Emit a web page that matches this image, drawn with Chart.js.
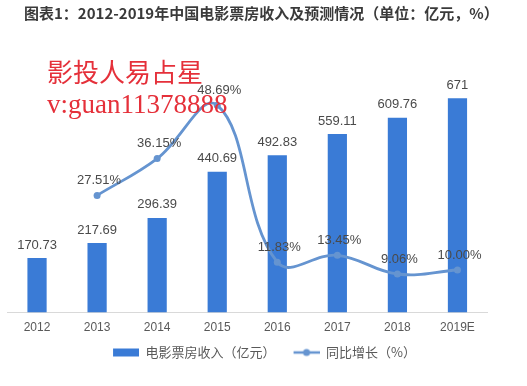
<!DOCTYPE html>
<html><head><meta charset="utf-8">
<script src="https://cdn.jsdelivr.net/npm/chart.js@4/dist/chart.umd.min.js"></script>
<style>
html,body{margin:0;padding:0;background:#fff;}
#wrap{position:relative;width:527px;height:386px;}
#title{position:absolute;left:24px;top:2px;font:bold 15px "Noto Sans CJK SC",sans-serif;color:#3a3a3a;white-space:nowrap;}
.wm{position:absolute;color:#e5303a;white-space:nowrap;line-height:normal;}
#wm1{left:47px;top:52px;font:26px "Noto Sans CJK SC",serif;}
#wm2{left:47px;top:89px;font:27px "Liberation Serif",serif;}
canvas{position:absolute;left:0;top:0;}
</style></head>
<body><div id="wrap">
<canvas id="c" width="527" height="386"></canvas>
<div id="title">图表1：2012-2019年中国电影票房收入及预测情况（单位：亿元，%）</div>
<div class="wm" id="wm1">影投人易占星</div>
<div class="wm" id="wm2">v:guan11378888</div>
</div>
<script>
const categories = ['2012','2013','2014','2015','2016','2017','2018','2019E'];
const boxOffice = [170.73, 217.69, 296.39, 440.69, 492.83, 559.11, 609.76, 671];
const boxOfficeLabels = ['170.73','217.69','296.39','440.69','492.83','559.11','609.76','671'];
const growth = [null, 27.51, 36.15, 48.69, 11.83, 13.45, 9.06, 10.00];
const growthLabels = ['', '27.51%', '36.15%', '48.69%', '11.83%', '13.45%', '9.06%', '10.00%'];
const seriesNames = ['电影票房收入（亿元）', '同比增长（%）'];

const BAR = '#3a7bd6', LINE = '#6594d0';

function legendImg(kind){
  const c = document.createElement('canvas'); c.width = 41; c.height = 10;
  const g = c.getContext('2d');
  if(kind==='bar'){ g.fillStyle = BAR; g.fillRect(15,1,26,8); }
  else { g.strokeStyle = LINE; g.lineWidth = 2.5; g.beginPath(); g.moveTo(15,5); g.lineTo(41,5); g.stroke();
    g.fillStyle = LINE; g.beginPath(); g.arc(28,5,3.5,0,Math.PI*2); g.fill(); }
  return c;
}
const imgs = [legendImg('bar'), legendImg('line')];

const labelPlugin = {
  id:'vlabels',
  afterDatasetsDraw(chart){
    const ctx = chart.ctx;
    ctx.save();
    ctx.font = '13px "Liberation Sans", Arial, sans-serif';
    ctx.fillStyle = '#4a4a4a';
    ctx.textAlign = 'center'; ctx.textBaseline = 'middle';
    chart.getDatasetMeta(0).data.forEach((el,i)=>{ ctx.fillText(boxOfficeLabels[i], el.x, el.y - 13); });
    chart.getDatasetMeta(1).data.forEach((el,i)=>{ if(growth[i]!=null) ctx.fillText(growthLabels[i], el.x + 2, el.y - 15); });
    ctx.restore();
  }
};

new Chart(document.getElementById('c'), {
  data: {
    labels: categories,
    datasets: [
      { type:'bar', label: seriesNames[0], data: boxOffice, backgroundColor: BAR, yAxisID:'y',
        barPercentage: 0.32, categoryPercentage: 1, order: 1 },
      { type:'line', label: seriesNames[1], data: growth, borderColor: LINE, backgroundColor: LINE,
        borderWidth: 2.8, pointRadius: 3.5, pointBackgroundColor: LINE, pointBorderWidth: 0,
        tension: 0.4, yAxisID:'y1', order: 0, spanGaps: false }
    ]
  },
  options: {
    responsive:false, animation:false,
    layout:{ padding:{ top:57, left:7, right:20, bottom:17 } },
    scales:{
      x:{ grid:{display:false, drawTicks:false}, border:{display:true, color:'#d9d9d9', width:1},
          ticks:{ padding:8, color:'#595959', font:{family:'"Liberation Sans", Arial, sans-serif', size:12} } },
      y:{ display:false, min:0, max:800 },
      y1:{ display:true, min:0, max:60, position:'right', grid:{display:false, drawTicks:false}, border:{display:false},
           ticks:{display:false}, afterFit(s){ s.width = 19.5; } }
    },
    plugins:{
      tooltip:{enabled:false},
      legend:{ position:'bottom',
        labels:{ usePointStyle:true, pointStyleWidth:41, boxHeight:10, padding:3, color:'#595959',
          font:{ family:'"Noto Sans CJK SC", sans-serif', size:13 },
          generateLabels(){ return seriesNames.map((n,i)=>({ text:n, pointStyle: imgs[i], fillStyle:'transparent', strokeStyle:'transparent', lineWidth:0, datasetIndex:i, hidden:false, fontColor:'#595959' })); }
        } }
    }
  },
  plugins:[labelPlugin]
});
</script>
</body></html>
